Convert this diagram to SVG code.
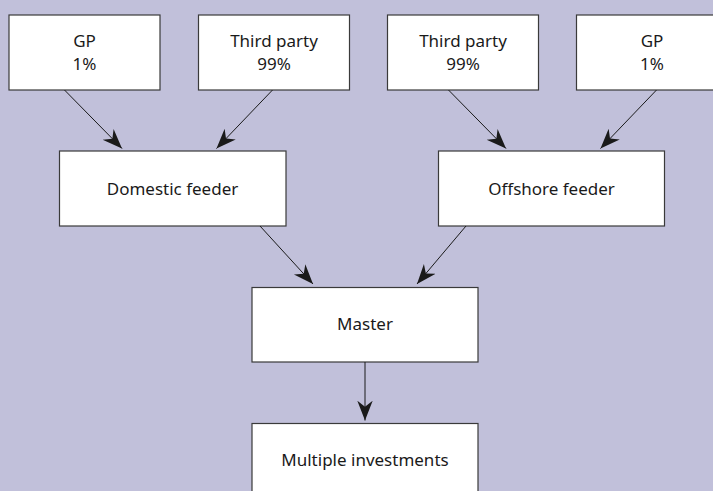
<svg xmlns="http://www.w3.org/2000/svg" width="713" height="491" viewBox="0 0 713 491">
<style>
.box{fill:#fff;stroke:#3a3a3a;stroke-width:1.2}
.t{font-family:"Noto Sans","Open Sans",sans-serif;font-size:17px;fill:#1a1a1a;text-anchor:middle}
.c{stroke:#1a1a1a;stroke-width:1;fill:none;marker-end:url(#ah)}
</style>
<defs>
<marker id="ah" markerUnits="userSpaceOnUse" markerWidth="22" markerHeight="20" viewBox="-18 -9 20 18" refX="0" refY="0" orient="auto">
<path d="M0,0 L-18,-7 L-12.5,0 L-18,7 Z" fill="#1a1a1a"/>
</marker>
</defs>
<rect width="713" height="491" fill="#c1c0da"/>
<g id="gp-left"><rect class="box" x="9" y="15" width="151" height="75"/><text class="t" x="84.5" y="47">GP</text><text class="t" x="84.5" y="69.5">1%</text></g>
<g id="third-left"><rect class="box" x="198.5" y="15" width="151" height="75"/><text class="t" x="274" y="47">Third party</text><text class="t" x="274" y="69.5">99%</text></g>
<g id="third-right"><rect class="box" x="387.5" y="15" width="151" height="75"/><text class="t" x="463" y="47">Third party</text><text class="t" x="463" y="69.5">99%</text></g>
<g id="gp-right"><rect class="box" x="576.5" y="15" width="151" height="75"/><text class="t" x="652" y="47">GP</text><text class="t" x="652" y="69.5">1%</text></g>
<g id="domestic"><rect class="box" x="59.5" y="151" width="226.5" height="75"/><text class="t" x="172.5" y="194.5">Domestic feeder</text></g>
<g id="offshore"><rect class="box" x="438.5" y="151" width="226" height="75"/><text class="t" x="551.5" y="194.5">Offshore feeder</text></g>
<g id="master"><rect class="box" x="252" y="287.5" width="226" height="74.5"/><text class="t" x="365" y="330">Master</text></g>
<g id="multiple"><rect class="box" x="252" y="423.5" width="226" height="80"/><text class="t" x="365" y="465.5">Multiple investments</text></g>
<g id="connectors">
<line class="c" x1="64.5" y1="90" x2="122" y2="148.5"/>
<line class="c" x1="272.5" y1="90" x2="216.5" y2="148.5"/>
<line class="c" x1="448.5" y1="90" x2="506" y2="148.5"/>
<line class="c" x1="656.5" y1="90" x2="600.5" y2="148.5"/>
<line class="c" x1="260" y1="226" x2="313" y2="284"/>
<line class="c" x1="466" y1="226" x2="417" y2="284"/>
<line class="c" x1="365" y1="362" x2="365" y2="420.5"/>
</g>
</svg>
